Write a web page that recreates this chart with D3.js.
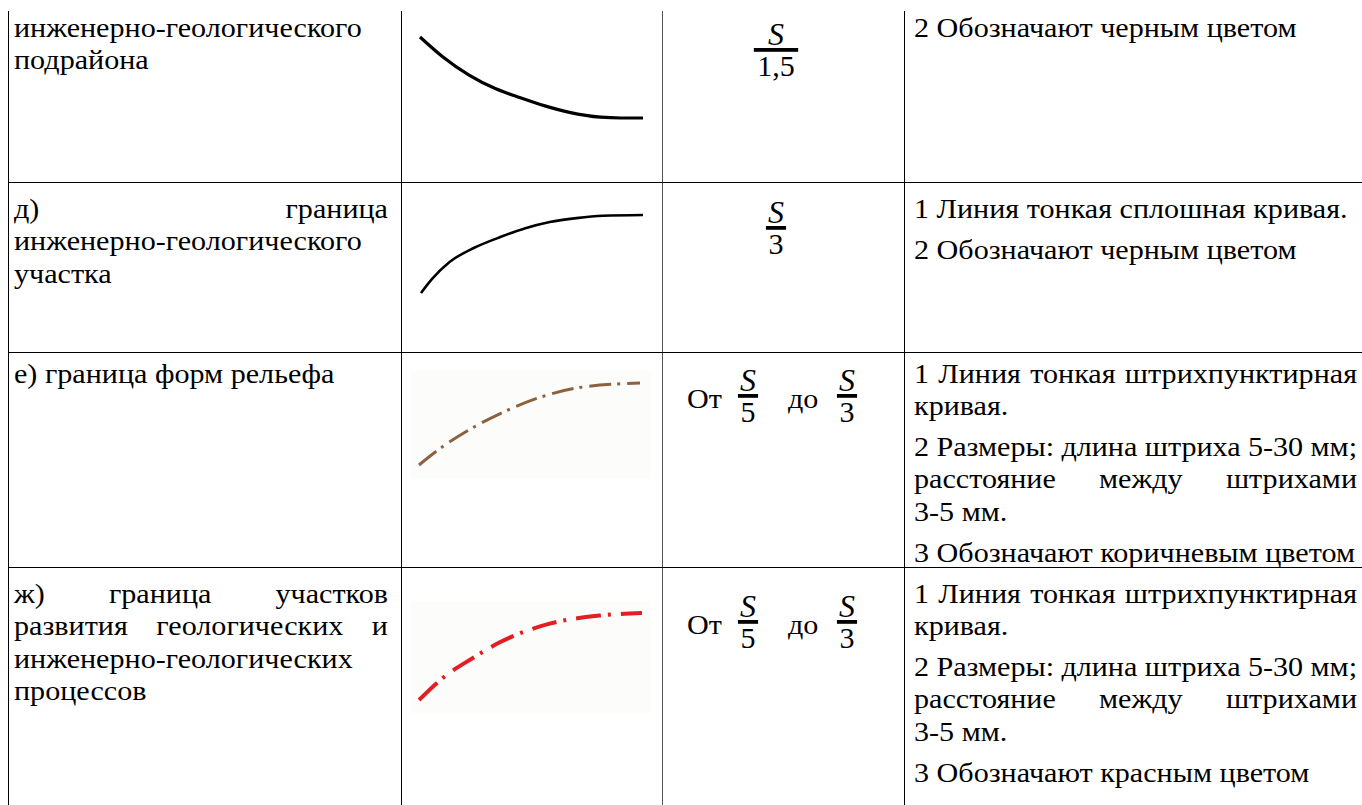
<!DOCTYPE html>
<html>
<head>
<meta charset="utf-8">
<script src="https://cdn.jsdelivr.net/npm/d3@7"></script>
<style>
  body { margin: 0; background: #fff; }
  svg { font-family: "Liberation Serif", "Times New Roman", "DejaVu Serif", serif; }
</style>
</head>
<body>
<svg id="table" width="1362" height="805"></svg>
<script>
// row labels (paragraphs -> lines), last line of a paragraph is not justified
const names = [
  [["инженерно-геологического", "подрайона"]],
  [["д) граница", "инженерно-геологического", "участка"]],
  [["е) граница форм рельефа"]],
  [["ж) граница участков", "развития геологических и", "инженерно-геологических", "процессов"]]
];

// line thickness: from S/a to S/b
const numer = "S";
const thickFrom = [null, null, "5", "5"];
const thickTo = ["1,5", "3", "3", "3"];

// descriptions
const notes = [
  [["2 Обозначают черным цветом"]],
  [["1 Линия тонкая сплошная кривая."], ["2 Обозначают черным цветом"]],
  [["1 Линия тонкая штрихпунктирная", "кривая."],
   ["2 Размеры: длина штриха 5-30 мм;", "расстояние между штрихами", "3-5 мм."],
   ["3 Обозначают коричневым цветом"]],
  [["1 Линия тонкая штрихпунктирная", "кривая."],
   ["2 Размеры: длина штриха 5-30 мм;", "расстояние между штрихами", "3-5 мм."],
   ["3 Обозначают красным цветом"]]
];

// curve shapes, x 0..1 left to right, y 0..1 top to bottom
const curves = [
  [[0,0],[0.1,0.24],[0.22,0.47],[0.34,0.64],[0.45,0.75],[0.56,0.85],[0.67,0.93],[0.81,0.99],[0.9,1],[1,1]],
  [[0,1],[0.05,0.82],[0.13,0.6],[0.24,0.42],[0.36,0.28],[0.47,0.17],[0.58,0.09],[0.7,0.04],[0.82,0.01],[1,0]],
  [[0,1],[0.11,0.77],[0.24,0.55],[0.37,0.37],[0.52,0.2],[0.74,0.05],[1,0]],
  [[0,1],[0.11,0.74],[0.24,0.52],[0.36,0.34],[0.59,0.12],[0.81,0.03],[1,0]]
];
const curveColors = ["#000", "#000", "#8a6240", "#e31e24"];

// ---- layout ----
const svg = d3.select("#table");
const FS = 28, LH = 32.3, PGAP = 8.5;
const colX = [8, 401, 662, 904];
const rowY = [11, 182, 352, 567, 805];
const firstBase = [37, 218, 383, 603];
const fracBar = [50, 228, 396, 622];
const curveBox = [
  {x0: 420, x1: 643, y0: 37, y1: 118, w: 3.2, dash: null},
  {x0: 421, x1: 643, y0: 215, y1: 293, w: 2.6, dash: null},
  {x0: 419, x1: 640, y0: 383, y1: 465, w: 3, dash: "22,6,3,7", bg: [411, 371, 239, 108]},
  {x0: 419, x1: 642, y0: 613, y1: 700, w: 4, dash: "25,7,3,10", bg: [411, 601, 239, 112]}
];

const measurer = svg.append("text").attr("font-size", FS).attr("opacity", 0);
function measure(s, size, italic) {
  measurer.attr("font-size", size || FS).attr("font-style", italic ? "italic" : null).text(s);
  return measurer.node().getComputedTextLength();
}

// horizontal stretch so the longest unjustified note line spans its cell as in the source
const K = 441 / measure("3 Обозначают коричневым цветом");

// grid
const grid = svg.append("g").attr("stroke", "#000").attr("stroke-width", 1);
colX.forEach((x, i) => grid.append("line")
  .attr("x1", x + 0.5).attr("x2", x + 0.5).attr("y1", rowY[0]).attr("y2", 805)
  .attr("stroke", i == 2 ? "#555" : "#000"));
rowY.slice(1, 4).forEach(y => grid.append("line")
  .attr("x1", colX[0]).attr("x2", 1362).attr("y1", y + 0.5).attr("y2", y + 0.5));

function drawLine(g, str, x, y, width, justify) {
  const words = str.split(" ");
  if (!justify || words.length < 2) {
    g.append("text").attr("x", x).attr("y", y).attr("font-size", FS)
      .attr("textLength", measure(str) * K).attr("lengthAdjust", "spacingAndGlyphs")
      .text(str);
    return;
  }
  const ws = words.map(w => measure(w) * K);
  const gap = (width - d3.sum(ws)) / (words.length - 1);
  let cx = x;
  words.forEach((w, i) => {
    g.append("text").attr("x", cx).attr("y", y).attr("font-size", FS)
      .attr("textLength", ws[i]).attr("lengthAdjust", "spacingAndGlyphs").text(w);
    cx += ws[i] + gap;
  });
}

function drawParagraphs(g, paras, x, y, width) {
  paras.forEach(lines => {
    lines.forEach((ln, i) => {
      drawLine(g, ln, x, y, width, i < lines.length - 1);
      y += LH;
    });
    y += PGAP;
  });
}

const textG = svg.append("g");
names.forEach((p, r) => drawParagraphs(textG, p, 14, firstBase[r], 374));
notes.forEach((p, r) => drawParagraphs(textG, p, 914, firstBase[r], 443));

// fractions
const FF = 30;
function fraction(g, cx, barY, den) {
  const w = Math.max(measure(numer, FF, true), measure(den, FF)) * K + 4;
  g.append("text").attr("x", cx).attr("y", barY - 5).attr("font-size", FF + 2)
    .attr("font-style", "italic").attr("text-anchor", "middle").text(numer);
  g.append("rect").attr("x", cx - w / 2).attr("y", barY - 2).attr("width", w).attr("height", 3.8);
  g.append("text").attr("x", cx).attr("y", barY + 26).attr("font-size", FF)
    .attr("text-anchor", "middle").text(den);
}
const fracG = svg.append("g");
thickTo.forEach((den, r) => {
  const barY = fracBar[r];
  if (thickFrom[r] == null) {
    fraction(fracG, 776, barY, den);
  } else {
    fracG.append("text").attr("x", 687).attr("y", barY + 12).attr("font-size", FS)
      .attr("textLength", measure("От") * K).attr("lengthAdjust", "spacingAndGlyphs").text("От");
    fraction(fracG, 748, barY, thickFrom[r]);
    fracG.append("text").attr("x", 788).attr("y", barY + 12).attr("font-size", FS)
      .attr("textLength", measure("до") * K).attr("lengthAdjust", "spacingAndGlyphs").text("до");
    fraction(fracG, 847, barY, den);
  }
});

// curves
const curveG = svg.append("g");
curves.forEach((pts, r) => {
  const b = curveBox[r];
  if (b.bg) {
    curveG.append("rect").attr("x", b.bg[0]).attr("y", b.bg[1])
      .attr("width", b.bg[2]).attr("height", b.bg[3]).attr("fill", "#fcfcfa");
  }
  const x = d3.scaleLinear().domain([0, 1]).range([b.x0, b.x1]);
  const y = d3.scaleLinear().domain([0, 1]).range([b.y0, b.y1]);
  const line = d3.line().x(d => x(d[0])).y(d => y(d[1])).curve(d3.curveMonotoneX);
  curveG.append("path").attr("d", line(pts))
    .attr("fill", "none")
    .attr("stroke", curveColors[r])
    .attr("stroke-width", b.w)
    .attr("stroke-dasharray", b.dash);
});
measurer.remove();
</script>
</body>
</html>
